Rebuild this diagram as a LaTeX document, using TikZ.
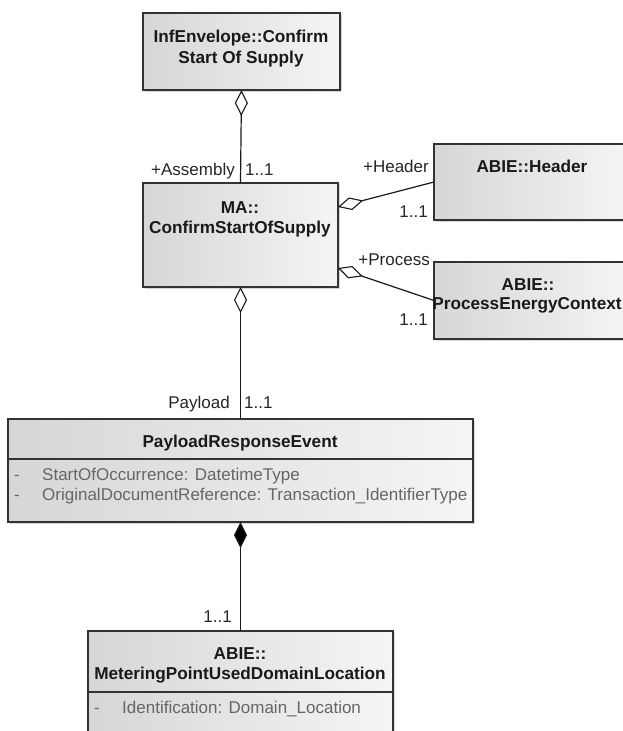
\documentclass[tikz,border=0pt]{standalone}
\usepackage{fontspec}
\setmainfont{Liberation Sans}
\usetikzlibrary{arrows.meta,shadows}

\begin{document}
\begin{tikzpicture}[x=1pt,y=-1pt,
  cls/.style={draw=black!80, line width=1.1pt, left color=black!16, right color=black!4,
    anchor=north west, inner sep=0pt, outer sep=0pt,
    drop shadow={shadow xshift=2pt, shadow yshift=-2pt, fill=black!30}},
  ttl/.style={font=\bfseries\fontsize{17.2}{20}\selectfont, text=black!90, inner sep=0pt, anchor=base},
  lbl/.style={font=\fontsize{17}{20}\selectfont, text=black!85, inner sep=0pt},
  attr/.style={font=\fontsize{17}{20}\selectfont, text=black!60, inner sep=0pt, anchor=base west},
  sep/.style={draw=black!80, line width=1.1pt},
  link/.style={draw=black!90, line width=1.2pt},
  aggr/.style={link, {Diamond[open, fill=white, length=26pt, width=13pt, line width=1.1pt]}-},
  comp/.style={link, {Diamond[fill=black, length=26pt, width=13pt]}-}]

\useasboundingbox[fill=white] (0,0) rectangle (622,731);

% class boxes
\node[cls, minimum width=197pt, minimum height=77pt]  (env) at (143,13)  {};
\node[cls, minimum width=195pt, minimum height=104pt] (ma)  at (143,183) {};
\node[cls, minimum width=196pt, minimum height=76pt]  (hdr) at (434,144) {};
\node[cls, minimum width=196pt, minimum height=77pt]  (proc) at (434,262) {};
\node[cls, minimum width=465pt, minimum height=103pt] (pre) at (8,419)   {};
\node[cls, minimum width=305pt, minimum height=130pt] (met) at (88,631)  {};

% compartment separators
\draw[sep] ([yshift=-40pt]pre.north west) -- ([yshift=-40pt]pre.north east);
\draw[sep] ([yshift=-61pt]met.north west) -- ([yshift=-61pt]met.north east);

% class names
\node[ttl] (envA) at (241,42)  {InfEnvelope::Confirm};
\node[ttl] (envB) at (241,63)  {Start Of Supply};
\node[ttl] (maA)  at (240,213) {MA::};
\node[ttl] (maB)  at (240,233) {ConfirmStartOfSupply};
\node[ttl] (hdrA) at (532,172) {ABIE::Header};
\node[ttl] (procA) at (528,290) {ABIE::};
\node[ttl] (procB) at (527,309) {ProcessEnergyContext};
\node[ttl] (preA) at (240,447) {PayloadResponseEvent};
\node[ttl] (metA) at (240,659) {ABIE::};
\node[ttl] (metB) at (240,679) {MeteringPointUsedDomainLocation};

% attributes
\node[attr] (preD1) at (14,480) {-};
\node[attr] (preT1) at (42,480) {StartOfOccurrence: DatetimeType};
\node[attr] (preD2) at (14,500) {-};
\node[attr] (preT2) at (42,500) {OriginalDocumentReference: Transaction\_IdentifierType};
\node[attr] (metD1) at (94,713) {-};
\node[attr] (metT1) at (122,713) {Identification: Domain\_Location};

% associations
\draw[aggr] (env.south) -- (ma.north);
\draw[aggr] ([yshift=28pt]ma.east) -- (hdr.west);
\draw[aggr] ([yshift=-33pt]ma.east) -- (proc.west);
\draw[aggr] (ma.south) -- (ma.south |- pre.north);
\draw[comp] (pre.south) -- (pre.south |- met.north);

% role names and multiplicities
\node[lbl, anchor=base east] (rAsm) at (235,175) {+Assembly};
\node[lbl, anchor=base west] (mAsm) at (245,175) {1..1};
\node[lbl, anchor=base east] (rHdr) at (429,172) {+Header};
\node[lbl, anchor=base east] (mHdr) at (428,217) {1..1};
\node[lbl, anchor=base east] (rProc) at (430,265) {+Process};
\node[lbl, anchor=base east] (mProc) at (428,325) {1..1};
\node[lbl, anchor=base east] (rPay) at (230,408) {Payload};
\node[lbl, anchor=base west] (mPay) at (244,408) {1..1};
\node[lbl, anchor=base east] (mMet) at (232,622) {1..1};

\end{tikzpicture}
\end{document}
